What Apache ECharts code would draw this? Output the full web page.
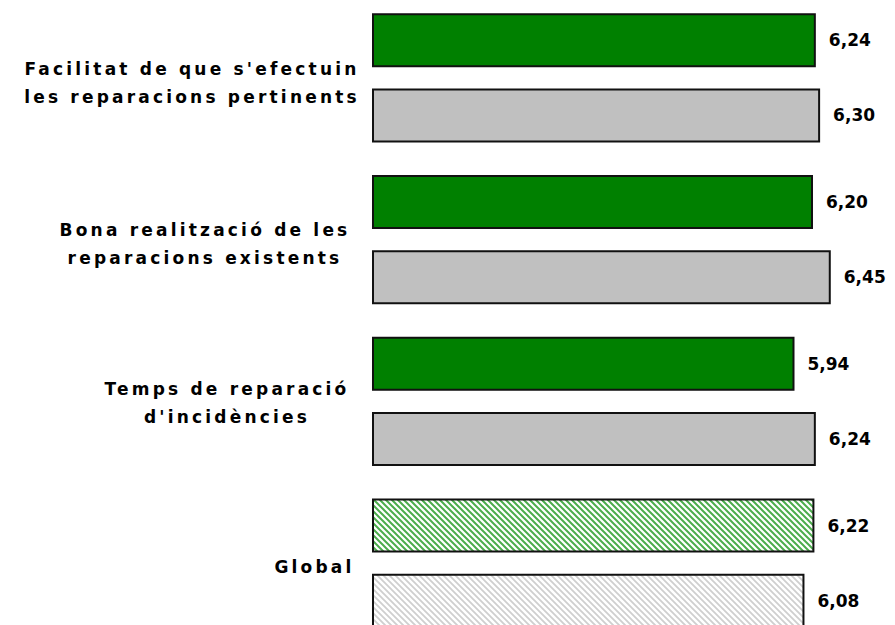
<!DOCTYPE html>
<html>
<head>
<meta charset="utf-8">
<script src="https://cdn.jsdelivr.net/npm/echarts@6/dist/echarts.min.js"></script>
<style>
html,body{margin:0;padding:0;background:#fff}
#c{width:895px;height:625px}
#c text[style*="sans-serif"]{letter-spacing:3.2px}
</style>
</head>
<body>
<div id="c"></div>
<script>
const categories = [
  "Facilitat de que s'efectuin\nles reparacions pertinents",
  "Bona realització de les\nreparacions existents",
  "Temps de reparació\nd'incidències",
  "Global"
];
const greenValues = [6.24, 6.20, 5.94, 6.22];
const grayValues = [6.30, 6.45, 6.24, 6.08];

// per-category placement of the label block (layout only): [top, right, bottom, left]
const labelPadding = [[-23, 26, 0, 0], [-23.5, 0, 0, 0], [-26.5, 0, 0, 44], [-10, 0, 0, 219]];

function hatch(color, lineW) {
  const c = document.createElement('canvas');
  c.width = 6; c.height = 6;
  const g = c.getContext('2d');
  g.fillStyle = '#fff'; g.fillRect(0, 0, 6, 6);
  g.strokeStyle = color; g.lineWidth = lineW;
  g.beginPath();
  g.moveTo(-6, -6); g.lineTo(12, 12);
  g.moveTo(-6, 0); g.lineTo(6, 12);
  g.moveTo(0, -6); g.lineTo(12, 6);
  g.stroke();
  return { image: c, repeat: 'repeat' };
}

const fmt = p => p.value.toFixed(2).replace('.', ',');
const lastIdx = categories.length - 1;

function buildData(values, solid, pattern) {
  return values.map((v, i) => ({
    value: v,
    itemStyle: { color: i === lastIdx ? pattern : solid }
  }));
}

const valueLabel = {
  show: true, position: 'right', distance: 13, formatter: fmt,
  fontFamily: 'DejaVu Sans', fontWeight: 'bold', fontSize: 17, color: '#000'
};

const chart = echarts.init(document.getElementById('c'), null, { renderer: 'svg' });
chart.setOption({
  animation: false,
  backgroundColor: '#fff',
  grid: { left: 372, top: -3, width: 497.9, height: 647, containLabel: false, outerBoundsMode: 'none' },
  xAxis: { type: 'value', min: 0, max: 7, show: false },
  yAxis: {
    type: 'category', inverse: true,
    data: categories.map((c, i) => ({
      value: c,
      textStyle: { align: 'center', verticalAlign: 'top', padding: labelPadding[i] }
    })),
    axisLine: { show: false }, axisTick: { show: false }, splitLine: { show: false },
    axisLabel: {
      margin: 167, align: 'center', lineHeight: 28,
      fontFamily: '"DejaVu Sans", sans-serif', fontWeight: 'bold', fontSize: 17, color: '#000'
    }
  },
  series: [
    {
      type: 'bar', barWidth: 54, barGap: '39%',
      data: buildData(greenValues, '#008000', hatch('#4cad4c', 2)),
      itemStyle: { borderColor: '#111', borderWidth: 2 },
      label: valueLabel
    },
    {
      type: 'bar', barWidth: 54, barGap: '39%',
      data: buildData(grayValues, '#c0c0c0', hatch('#cfcfcf', 1.8)),
      itemStyle: { borderColor: '#111', borderWidth: 2 },
      label: valueLabel
    }
  ]
});
</script>
</body>
</html>
